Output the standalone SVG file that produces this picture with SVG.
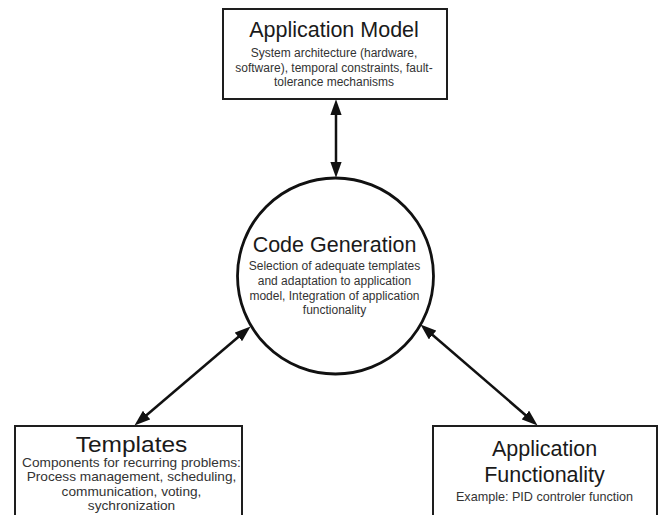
<svg xmlns="http://www.w3.org/2000/svg" width="660" height="515" viewBox="0 0 660 515">
  <style>
    .box { fill: #ffffff; stroke: #1e1e1e; stroke-width: 2; }
    .hub { fill: #ffffff; stroke: #111111; stroke-width: 2.8; }
    .title { font-family: "Liberation Sans", Arial, sans-serif; font-size: 21.5px; fill: #1a1a1a; text-anchor: middle; }
    .desc { font-family: "Liberation Sans", Arial, sans-serif; font-size: 12px; fill: #333333; text-anchor: middle; }
    .link { fill: none; stroke: #111111; stroke-width: 2.5; marker-start: url(#head); marker-end: url(#head); }
  </style>
  <defs>
    <marker id="head" markerUnits="userSpaceOnUse" markerWidth="16" markerHeight="12" viewBox="0 0 14 10" refX="9" refY="5" orient="auto-start-reverse">
      <path d="M0,0 L14,5 L0,10 Z" fill="#111111"/>
    </marker>
  </defs>

  <rect width="660" height="515" fill="#ffffff"/>

  <!-- bidirectional connectors between the hub and the three boxes -->
  <g id="connectors">
    <path class="link" d="M336,105 L336,172"/>
    <path class="link" d="M138.8,421.8 L246.2,330.2"/>
    <path class="link" d="M424.8,328.3 L533.2,421.7"/>
  </g>

  <g id="application-model">
    <rect class="box" x="223" y="9" width="224" height="90"/>
    <text class="title" x="334" y="37">Application Model</text>
    <text class="desc" x="334" y="56.5">System architecture (hardware,</text>
    <text class="desc" x="334" y="71.5">software), temporal constraints, fault-</text>
    <text class="desc" x="334" y="86">tolerance mechanisms</text>
  </g>

  <g id="code-generation">
    <circle class="hub" cx="335.5" cy="276" r="98"/>
    <text class="title" x="334.5" y="251.7">Code Generation</text>
    <text class="desc" x="334.5" y="269.5">Selection of adequate templates</text>
    <text class="desc" x="334.5" y="284.5">and adaptation to application</text>
    <text class="desc" x="334.5" y="299.5">model, Integration of application</text>
    <text class="desc" x="334.5" y="314">functionality</text>
  </g>

  <g id="templates">
    <rect class="box" x="15" y="426" width="227" height="110"/>
    <!-- this box's lettering is set a little wider than the others -->
    <g transform="translate(131.5,0) scale(1.14,1)">
      <text class="title" x="0" y="452.5">Templates</text>
      <text class="desc" x="0" y="467">Components for recurring problems:</text>
      <text class="desc" x="0" y="481.5">Process management, scheduling,</text>
      <text class="desc" x="0" y="496">communication, voting,</text>
      <text class="desc" x="0" y="510.5">sychronization</text>
    </g>
  </g>

  <g id="application-functionality">
    <rect class="box" x="433" y="426" width="224" height="110"/>
    <text class="title" x="544.5" y="456">Application</text>
    <text class="title" x="544.5" y="481.5">Functionality</text>
    <text class="desc" x="544.5" y="500.5" style="font-size:12.6px">Example: PID controler function</text>
  </g>
</svg>
